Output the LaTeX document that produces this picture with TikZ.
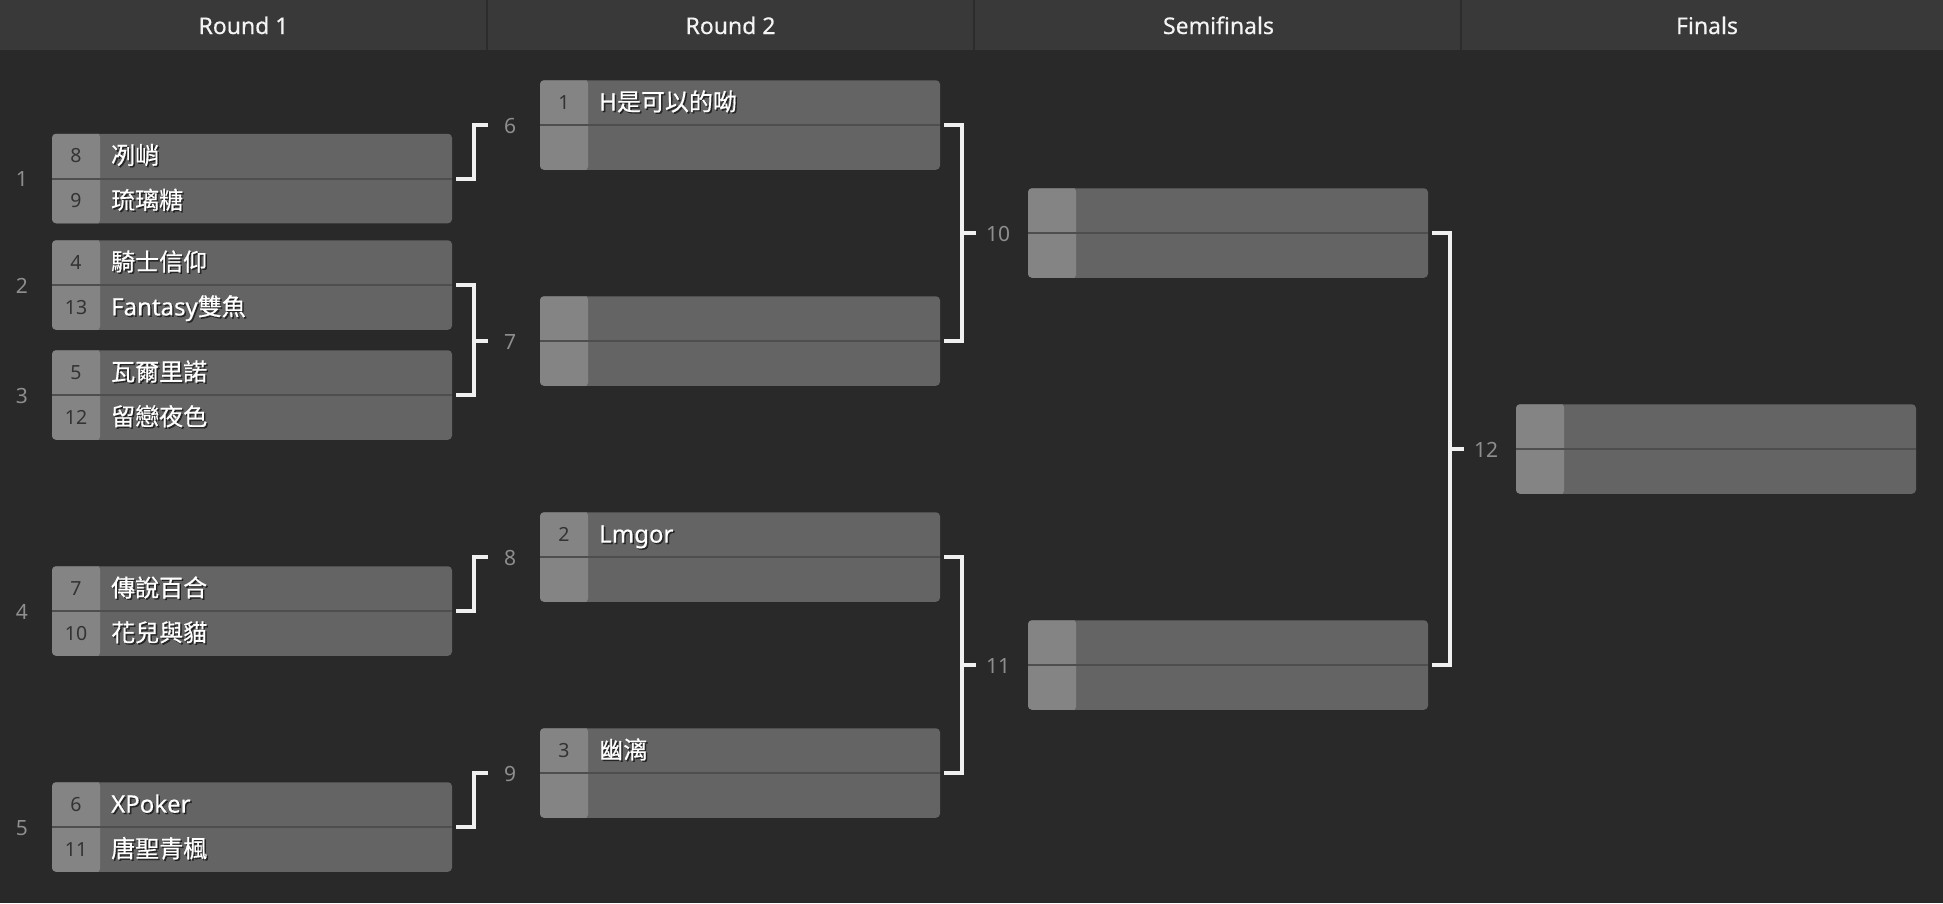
\documentclass[tikz,border=0pt]{standalone}
\usepackage{fontspec}
\setmainfont{Noto Sans}
\newfontfamily\cjk{Noto Sans CJK TC}[FakeBold=0.5]
\newfontfamily\namefont{Noto Sans}[FakeBold=0.5]
\newfontfamily\hdrfont{Noto Sans}[FakeBold=0.3]
\usetikzlibrary{calc}
\definecolor{bgc}{HTML}{292929}
\definecolor{hdrc}{HTML}{393939}
\definecolor{sepc}{HTML}{2C2C2C}
\definecolor{boxc}{HTML}{646464}
\definecolor{seedc}{HTML}{848484}
\definecolor{divc}{HTML}{4E4E4E}
\definecolor{seedtxtc}{HTML}{333333}
\definecolor{labc}{HTML}{8E8E8E}
\definecolor{brkc}{HTML}{F0F0F0}
\definecolor{hdrtxtc}{HTML}{F4F4F4}
\tikzset{
  matchbox/.style={rectangle, rounded corners=4pt, fill=boxc, minimum width=400pt,
    minimum height=89.5pt, inner sep=0pt, outer sep=0pt,
    path picture={
      \fill[seedc] ([xshift=-1pt,yshift=-1pt]path picture bounding box.south west) rectangle ([xshift=48pt,yshift=1pt]path picture bounding box.north west);
      \draw[divc, line width=2pt] ([xshift=-1pt]path picture bounding box.west) -- ([xshift=1pt]path picture bounding box.east);
    }},
  mlabel/.style={anchor=base, inner sep=0pt, text=labc, font=\fontsize{21}{25}\selectfont},
  seedtxt/.style={anchor=base, inner sep=0pt, text=seedtxtc, font=\fontsize{19.5}{23}\selectfont},
  nametxt/.style={anchor=base west, inner sep=0pt, text=white, font=\namefont\fontsize{24}{28}\selectfont},
  nameshadow/.style={nametxt, text=black, text opacity=0.6},
  hdrtxt/.style={anchor=base, inner sep=0pt, text=hdrtxtc, font=\hdrfont\fontsize{23}{27}\selectfont},
  brk/.style={draw=brkc, line width=4pt},
  sepline/.style={draw=sepc, line width=2pt},
}
\newcommand\mkbox[4]{%
  \node[matchbox] (#1) at (#2+200,#3) {};
  \node[mlabel] (#1lab) at ([xshift=-30pt,yshift=-8pt]#1.west) {#4};
}
\newcommand\topentry[3]{%
  \node[seedtxt] (#1sa) at ([xshift=24pt,yshift=15.7pt]#1.west) {#2};
  \node[nameshadow] (#1ha) at ([xshift=60.5pt,yshift=13pt]#1.west) {#3};
  \node[nametxt] (#1na) at ([xshift=59pt,yshift=14.4pt]#1.west) {#3};
}
\newcommand\botentry[3]{%
  \node[seedtxt] (#1sb) at ([xshift=24pt,yshift=-29.1pt]#1.west) {#2};
  \node[nameshadow] (#1hb) at ([xshift=60.5pt,yshift=-31.9pt]#1.west) {#3};
  \node[nametxt] (#1nb) at ([xshift=59pt,yshift=-30.4pt]#1.west) {#3};
}
\begin{document}
\begin{tikzpicture}[x=1pt,y=-1pt]
\useasboundingbox (0,0) rectangle (1943,903);
\fill[bgc] (0,0) rectangle (1943,903);
\fill[hdrc] (0,0) rectangle (1943,50);
\draw[sepline] (487,0) -- (487,50);
\draw[sepline] (974,0) -- (974,50);
\draw[sepline] (1461,0) -- (1461,50);
\node[hdrtxt] (h1) at (243.5,34) {Round 1};
\node[hdrtxt] (h2) at (730.5,34) {Round 2};
\node[hdrtxt] (h3) at (1218.5,34) {Semifinals};
\node[hdrtxt] (h4) at (1707,34) {Finals};

% Round 1
\mkbox{m1}{52}{178.5}{1}
\topentry{m1}{8}{\cjk 冽峭}
\botentry{m1}{9}{\cjk 琉璃糖}
\mkbox{m2}{52}{285}{2}
\topentry{m2}{4}{\cjk 騎士信仰}
\botentry{m2}{13}{Fantasy{\cjk 雙魚}}
\mkbox{m3}{52}{395}{3}
\topentry{m3}{5}{\cjk 瓦爾里諾}
\botentry{m3}{12}{\cjk 留戀夜色}
\mkbox{m4}{52}{611}{4}
\topentry{m4}{7}{\cjk 傳說百合}
\botentry{m4}{10}{\cjk 花兒與貓}
\mkbox{m5}{52}{827}{5}
\topentry{m5}{6}{XPoker}
\botentry{m5}{11}{\cjk 唐聖青楓}

% Round 2
\mkbox{m6}{540}{125}{6}
\topentry{m6}{1}{H{\cjk 是可以的呦}}
\mkbox{m7}{540}{341}{7}
\mkbox{m8}{540}{557}{8}
\topentry{m8}{2}{Lmgor}
\mkbox{m9}{540}{773}{9}
\topentry{m9}{3}{\cjk 幽漓}

% Semifinals
\mkbox{m10}{1028}{233}{10}
\mkbox{m11}{1028}{665}{11}

% Finals
\mkbox{m12}{1516}{449}{12}

% brackets
\path ([xshift=22pt]m1.east) coordinate (v1);
\draw[brk] ([xshift=4pt]m1.east) -- (v1) -- (v1 |- m6.west) -- ++(14,0);
\path ([xshift=22pt]m2.east) coordinate (v2);
\draw[brk] ([xshift=4pt]m2.east) -- (v2) -- (v2 |- m3.east) -- ([xshift=4pt]m3.east);
\draw[brk] (v2 |- m7.west) -- ++(14,0);
\path ([xshift=22pt]m4.east) coordinate (v4);
\draw[brk] ([xshift=4pt]m4.east) -- (v4) -- (v4 |- m8.west) -- ++(14,0);
\path ([xshift=22pt]m5.east) coordinate (v5);
\draw[brk] ([xshift=4pt]m5.east) -- (v5) -- (v5 |- m9.west) -- ++(14,0);

\path ([xshift=22pt]m6.east) coordinate (v6);
\draw[brk] ([xshift=4pt]m6.east) -- (v6) -- (v6 |- m7.east) -- ([xshift=4pt]m7.east);
\draw[brk] (v6 |- m10.west) -- ++(14,0);
\path ([xshift=22pt]m8.east) coordinate (v8);
\draw[brk] ([xshift=4pt]m8.east) -- (v8) -- (v8 |- m9.east) -- ([xshift=4pt]m9.east);
\draw[brk] (v8 |- m11.west) -- ++(14,0);

\path ([xshift=22pt]m10.east) coordinate (v10);
\draw[brk] ([xshift=4pt]m10.east) -- (v10) -- (v10 |- m11.east) -- ([xshift=4pt]m11.east);
\draw[brk] (v10 |- m12.west) -- ++(14,0);
\end{tikzpicture}
\end{document}
